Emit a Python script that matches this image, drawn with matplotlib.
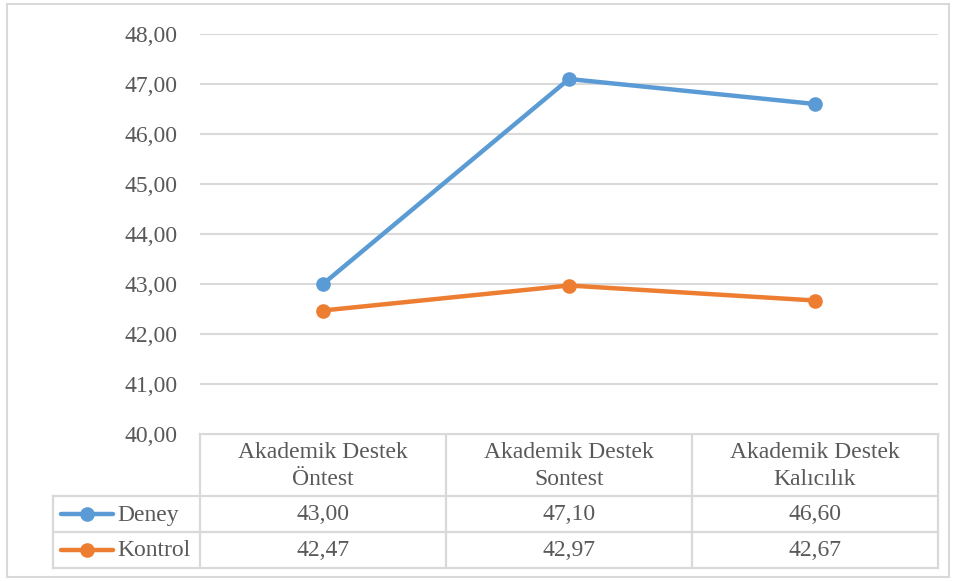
import matplotlib
matplotlib.use("Agg")
import matplotlib.pyplot as plt

categories = ["Akademik Destek\nÖntest", "Akademik Destek\nSontest", "Akademik Destek\nKalıcılık"]
series_names = ["Deney", "Kontrol"]
deney = [43.00, 47.10, 46.60]
kontrol = [42.47, 42.97, 42.67]
yticks = [40, 41, 42, 43, 44, 45, 46, 47, 48]
colors = ["#5B9BD5", "#ED7D31"]

W, H = 956, 581
FAM = ["Liberation Serif", "DejaVu Serif"]
plt.rcParams['font.family'] = FAM
fig = plt.figure(figsize=(W / 100, H / 100), dpi=100)
TXT = "#595959"
GRID = "#D9D9D9"
FS = 17

def fx(px):
    return px / W

def fy(py):
    return 1 - py / H

# main plot area
pl, pr, pt, pb = 200, 938, 34, 434
ax = fig.add_axes([fx(pl), fy(pb), fx(pr) - fx(pl), fy(pt) - fy(pb)])
xs = list(range(len(categories)))
for vals, col in zip([deney, kontrol], colors):
    ax.plot(xs, vals, color=col, lw=3.2, marker="o", ms=9.5, solid_capstyle="round", zorder=3)
ax.set_xlim(-0.5, len(categories) - 0.5)
ax.set_ylim(min(yticks), max(yticks))
ax.set_yticks(yticks)
ax.set_yticklabels([f"{v:.2f}".replace(".", ",") for v in yticks], fontsize=FS, color=TXT, family=FAM)
ax.tick_params(axis="y", length=0, pad=16)
ax.tick_params(axis="x", length=0, labelbottom=False)
ax.yaxis.grid(True, color=GRID, lw=1.5)
ax.set_axisbelow(True)
for s in ax.spines.values():
    s.set_visible(False)

# overlay for table / border in pixel coords
ov = fig.add_axes([0, 0, 1, 1], zorder=-1)
ov.set_xlim(0, W)
ov.set_ylim(H, 0)
ov.axis("off")
ov.patch.set_alpha(0)

# outer border
ov.add_patch(plt.Rectangle((7, 4), 942, 573, fill=False, ec=GRID, lw=1.5))

col_edges = [pl + i * (pr - pl) / len(categories) for i in range(len(categories) + 1)]
leg_left = 53
rows = [434, 496, 532, 568]
lw_t = 1.6
ov.plot([pl, pr], [rows[0], rows[0]], color=GRID, lw=lw_t)
for r in rows[1:]:
    ov.plot([leg_left, pr], [r, r], color=GRID, lw=lw_t)
for c in col_edges:
    ov.plot([c, c], [rows[0], rows[-1]], color=GRID, lw=lw_t)
ov.plot([leg_left, leg_left], [rows[1], rows[-1]], color=GRID, lw=lw_t)

# header
for i, cat in enumerate(categories):
    cx = (col_edges[i] + col_edges[i + 1]) / 2
    ov.text(cx, (rows[0] + rows[1]) / 2 + 1, cat, ha="center", va="center",
            fontsize=FS, color=TXT, linespacing=1.35, family=FAM)

# data rows
for j, (name, vals, col) in enumerate(zip(series_names, [deney, kontrol], colors)):
    cy = (rows[j + 1] + rows[j + 2]) / 2
    ov.plot([61, 113], [cy, cy], color=col, lw=3.2, solid_capstyle="round")
    ov.plot([87], [cy], marker="o", ms=9.5, color=col)
    ov.text(117, cy + 1, name, ha="left", va="center", fontsize=FS, color=TXT, family=FAM)
    for i, v in enumerate(vals):
        cx = (col_edges[i] + col_edges[i + 1]) / 2
        ov.text(cx, cy + 1, f"{v:.2f}".replace(".", ","), ha="center", va="center",
                fontsize=FS, color=TXT, family=FAM)

fig.savefig("out.png", dpi=100)
